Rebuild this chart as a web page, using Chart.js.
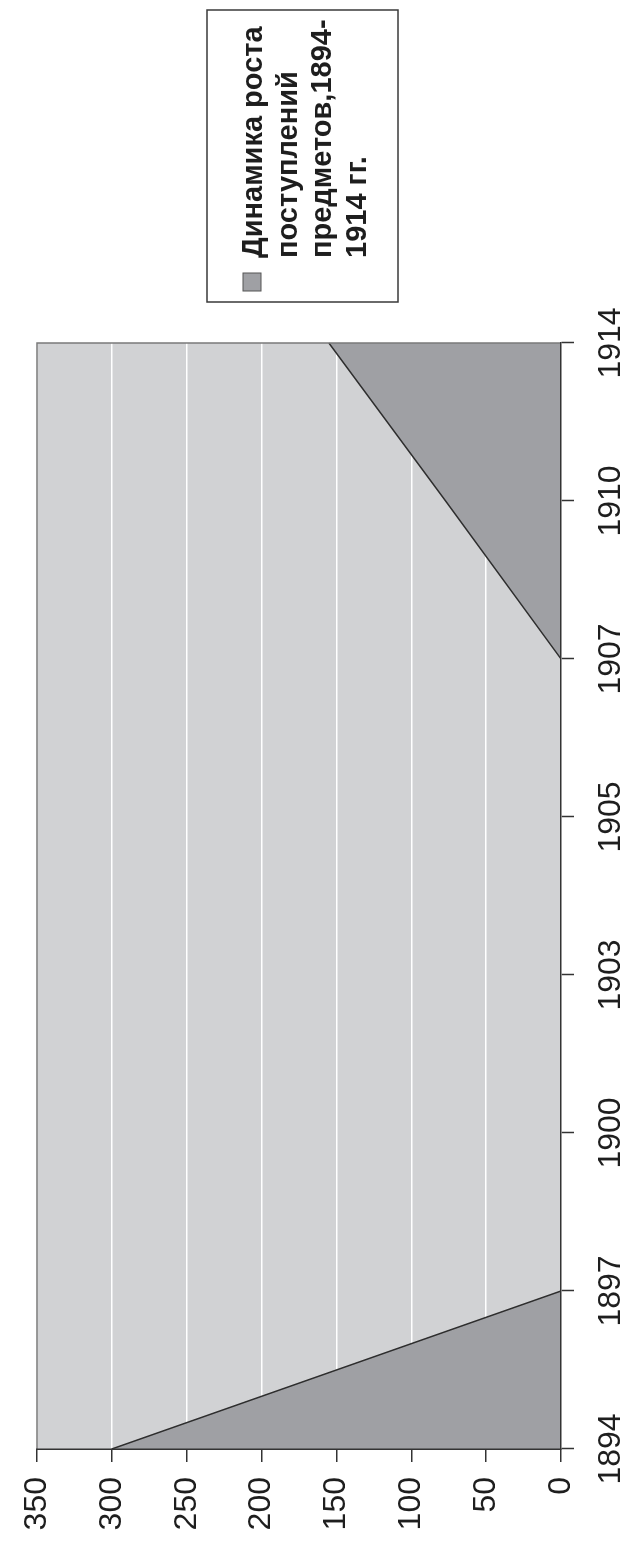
<!DOCTYPE html>
<html>
<head>
<meta charset="utf-8">
<script src="https://cdn.jsdelivr.net/npm/chart.js@4"></script>
<style>
	html, body { margin: 0; padding: 0; background: #fff; overflow: hidden; }
	body { width: 635px; height: 1544px; position: relative; }
	/* the chart is laid out landscape and turned a quarter turn counter-clockwise */
	#wrap {
		position: absolute; left: 0; top: 0;
		width: 1544px; height: 635px;
		transform-origin: 0 0;
		transform: translateY(1544px) rotate(-90deg);
	}
</style>
</head>
<body>
<div id="wrap"><canvas id="chart" width="1544" height="635"></canvas></div>
<script>
"use strict";

const years = ["1894", "1897", "1900", "1903", "1905", "1907", "1910", "1914"];
const postupleniya = [300, 0, 0, 0, 0, 0, 77, 155];
const valueMin = 0;
const valueMax = 350;
const valueStep = 50;
const legendLines = ["Динамика роста", "поступлений", "предметов,1894-", "1914 гг."];

const plotBg = "#d1d2d4";
const areaColor = "#9fa0a4";
const inkColor = "#1e1e1e";
const tickFont = { family: "'Liberation Sans', Arial, sans-serif", size: 32 };

// light grey plot background under the grid
const plotBackground = {
	id: "plotBackground",
	beforeDraw(chart) {
		const { ctx, chartArea: a } = chart;
		ctx.save();
		ctx.fillStyle = plotBg;
		ctx.fillRect(a.left, a.top, a.right - a.left, a.bottom - a.top);
		ctx.restore();
	},
};

// grey frame on the top and right sides of the plot
const plotFrame = {
	id: "plotFrame",
	afterDatasetsDraw(chart) {
		const { ctx, chartArea: a } = chart;
		ctx.save();
		ctx.strokeStyle = "#7a7a7a";
		ctx.lineWidth = 1.5;
		ctx.beginPath();
		ctx.moveTo(a.left, a.top);
		ctx.lineTo(a.right, a.top);
		ctx.lineTo(a.right, a.bottom);
		ctx.stroke();
		ctx.restore();
	},
};

// boxed legend with a wrapped label, like the original
const boxLegend = {
	id: "boxLegend",
	afterDraw(chart) {
		const { ctx } = chart;
		const ds = chart.data.datasets[0];
		const box = { x: 1242, y: 207, w: 292, h: 191 };
		ctx.save();
		ctx.strokeStyle = "#3a3a3a";
		ctx.lineWidth = 1.5;
		ctx.strokeRect(box.x, box.y, box.w, box.h);

		ctx.fillStyle = ds.backgroundColor;
		ctx.fillRect(box.x + 11, box.y + 36, 18, 18);
		ctx.strokeStyle = "#555";
		ctx.lineWidth = 1;
		ctx.strokeRect(box.x + 11, box.y + 36, 18, 18);

		ctx.fillStyle = inkColor;
		ctx.font = "bold 29px 'Liberation Sans', Arial, sans-serif";
		ctx.textAlign = "left";
		ctx.textBaseline = "alphabetic";
		legendLines.forEach((line, i) => {
			ctx.fillText(line, box.x + 44, box.y + 55 + i * 34.5);
		});
		ctx.restore();
	},
};

new Chart(document.getElementById("chart"), {
	type: "line",
	data: {
		labels: years,
		datasets: [
			{
				label: legendLines.join(" "),
				data: postupleniya,
				fill: "origin",
				backgroundColor: areaColor,
				borderColor: "#2e2e2e",
				borderWidth: 1.5,
				pointRadius: 0,
				tension: 0,
			},
		],
	},
	options: {
		responsive: false,
		devicePixelRatio: 1,
		animation: false,
		layout: { padding: { top: 37, right: 343, left: 0, bottom: 0 } },
		plugins: { legend: { display: false }, tooltip: { enabled: false } },
		scales: {
			x: {
				type: "category",
				offset: false,
				afterFit(scale) {
					scale.height = 74;
				},
				grid: { drawOnChartArea: false, tickColor: "#333", tickLength: 13, tickWidth: 1.5 },
				border: { display: true, color: "#333", width: 1.5, z: 1 },
				ticks: { color: inkColor, font: tickFont, maxRotation: 0, autoSkip: false, padding: 18 },
			},
			y: {
				min: valueMin,
				max: valueMax,
				afterFit(scale) {
					scale.width = 95;
				},
				grid: { color: "#ffffff", lineWidth: 1.5, tickColor: "#333", tickLength: 13, tickWidth: 1.5 },
				border: { display: true, color: "#333", width: 1.5, z: 1 },
				ticks: { color: inkColor, font: tickFont, stepSize: valueStep, padding: 15 },
			},
		},
	},
	plugins: [plotBackground, plotFrame, boxLegend],
});
</script>
</body>
</html>
